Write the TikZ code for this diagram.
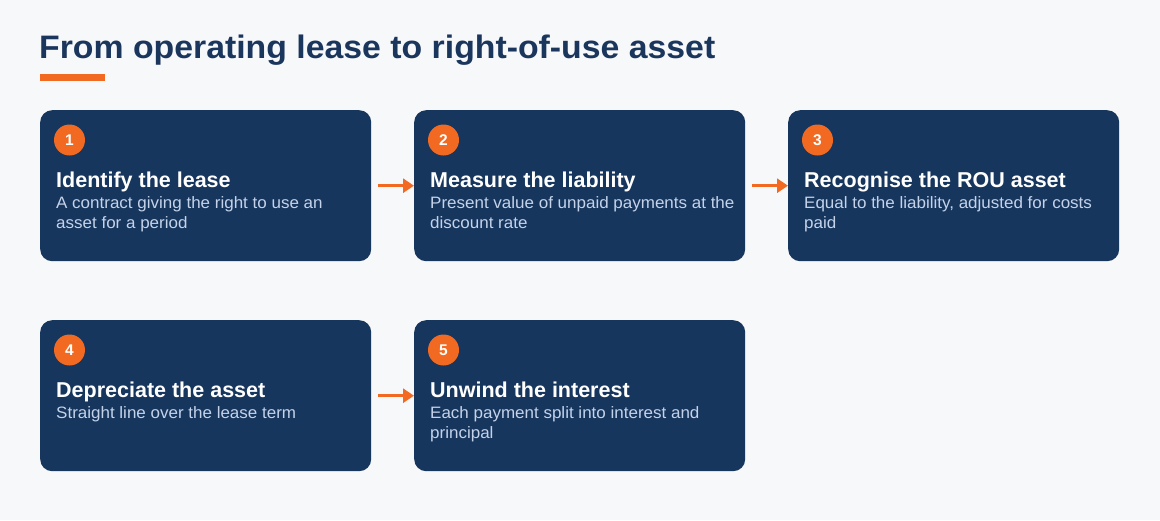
\documentclass[tikz,border=0pt]{standalone}
\usepackage{fontspec}
\setmainfont{Liberation Sans}
\newfontfamily\titlefont[FakeStretch=1.04]{Liberation Sans}
\newfontfamily\descfont[FakeStretch=1.03]{Liberation Sans}
\usetikzlibrary{arrows.meta}
\definecolor{bg}{HTML}{F7F8FA}
\definecolor{navy}{HTML}{17365D}
\definecolor{titlec}{HTML}{1B365D}
\definecolor{orng}{HTML}{F26A21}
\definecolor{desc}{HTML}{C5D3EA}
\tikzset{
  stepbox/.style={draw=none, fill=navy, rounded corners=12pt, minimum width=331pt, minimum height=151pt, inner sep=0pt, anchor=north west},
  numdot/.style={circle, fill=orng, minimum size=31pt, inner sep=0pt, text=white, font=\fontsize{15.5}{15.5}\selectfont\bfseries},
  headtxt/.style={anchor=base west, inner sep=0pt, text=white, font=\fontsize{21.5}{24}\selectfont\bfseries},
  desctxt/.style={anchor=north west, inner sep=0pt, text=desc, align=left, font=\descfont\fontsize{16.5}{20}\selectfont},
  flow/.style={draw=orng, line width=3.5pt, -{Triangle[length=11pt,width=14pt]}, shorten <=7pt, shorten >=0pt}
}
\newcommand{\stepcard}[6]{%
  \node[stepbox] (#1) at (#2,#3) {};
  \node[numdot] (#1n) at (#2+29.5,#3+30) {#4};
  \node[headtxt] (#1h) at (#2+16,#3+77) {#5};
  \node[desctxt] (#1d) at (#2+16,#3+84) {#6};
}
\begin{document}
\begin{tikzpicture}[x=1pt,y=-1pt]
\useasboundingbox (0,0) rectangle (1160,520);
\fill[bg] (0,0) rectangle (1160,520);
\node[anchor=base west, inner sep=0pt, text=titlec, font=\titlefont\fontsize{32.5}{36}\selectfont\bfseries] (title) at (39,58) {From operating lease to right-of-use asset};
\fill[orng] (40,73.5) rectangle (105,80.5);
\stepcard{b1}{40}{110}{1}{Identify the lease}{\strut A contract giving the right to use an\\\strut asset for a period}
\stepcard{b2}{414}{110}{2}{Measure the liability}{\strut Present value of unpaid payments at the\\\strut discount rate}
\stepcard{b3}{788}{110}{3}{Recognise the ROU asset}{\strut Equal to the liability, adjusted for costs\\\strut paid}
\stepcard{b4}{40}{320}{4}{Depreciate the asset}{\strut Straight line over the lease term}
\stepcard{b5}{414}{320}{5}{Unwind the interest}{\strut Each payment split into interest and\\\strut principal}
\draw[flow] (b1.east) -- (b2.west);
\draw[flow] (b2.east) -- (b3.west);
\draw[flow] (b4.east) -- (b5.west);
\end{tikzpicture}
\end{document}
